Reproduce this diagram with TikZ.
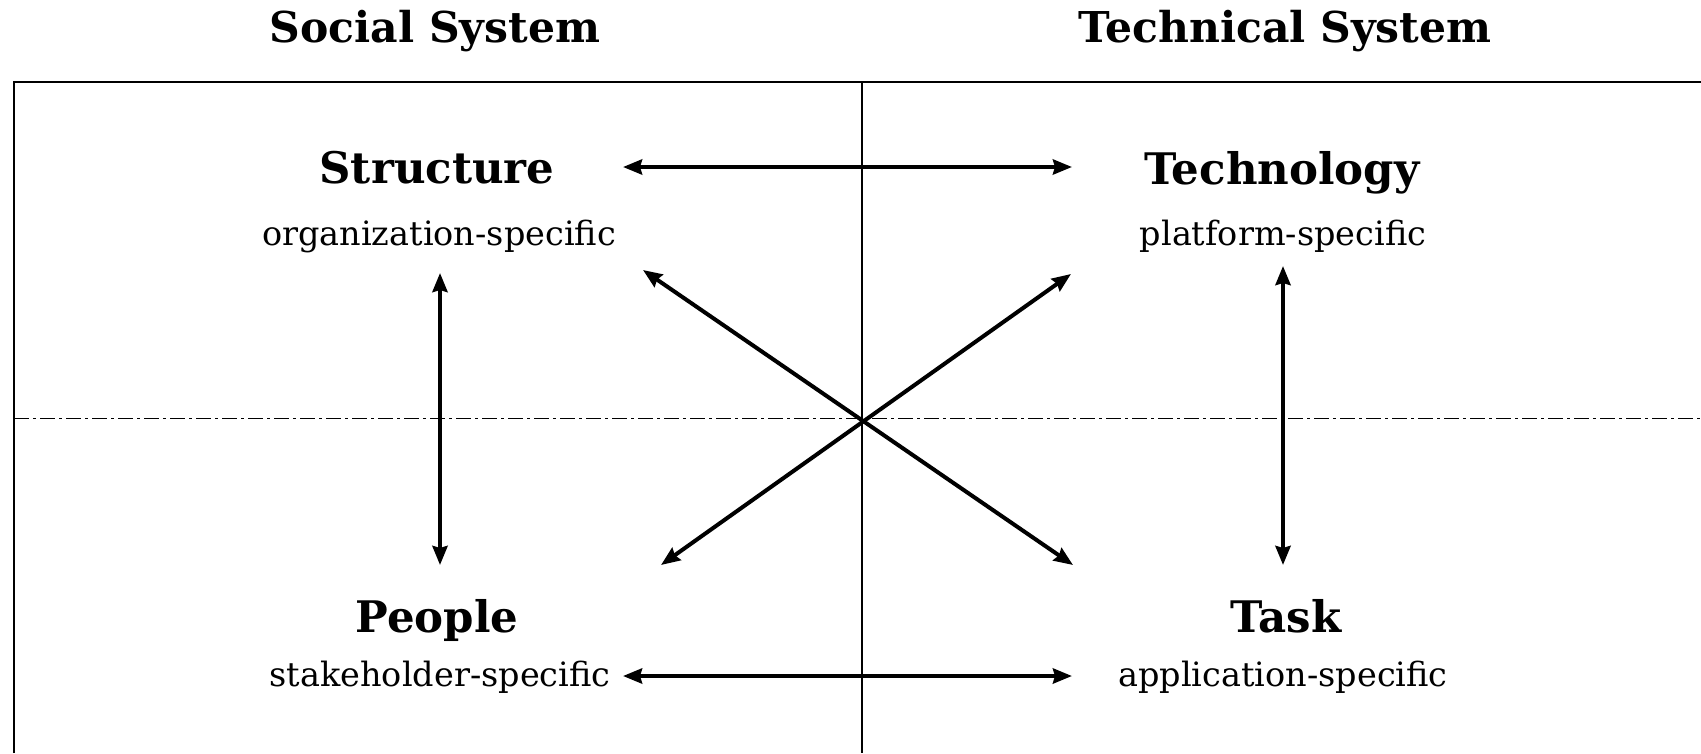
\documentclass[tikz,border=0pt]{standalone}
\usepackage{fontspec}
\setmainfont{DejaVu Serif}
\usetikzlibrary{arrows.meta}
\tikzset{
  title/.style={font=\fontsize{42.5}{48}\selectfont\bfseries, anchor=base, inner sep=0pt},
  head/.style={font=\fontsize{43.5}{48}\selectfont\bfseries, anchor=base, inner sep=0pt},
  sub/.style={font=\fontsize{33.5}{38}\selectfont, anchor=base, inner sep=0pt},
  frameline/.style={line width=2pt},
  midline/.style={line width=1.3pt},
  dashdot/.style={line width=1pt, dash pattern=on 15pt off 4pt on 3pt off 4pt},
  link/.style={line width=4pt, {Stealth[length=19pt,width=15pt,inset=2pt]}-{Stealth[length=19pt,width=15pt,inset=2pt]}}
}
\begin{document}
\begin{tikzpicture}[x=1pt,y=-1pt]
\useasboundingbox (0,0) rectangle (1701,753);
% titles
\node[title] (social) at (435,42) {Social System};
\node[title] (technical) at (1285,42) {Technical System};
% frame
\coordinate (ftl) at (14,82);
\coordinate (ftr) at (1701,82);
\coordinate (fbl) at (14,753);
\coordinate (mt) at (862,82);
\coordinate (mb) at (862,753);
\coordinate (hl) at (14,418);
\coordinate (hr) at (1701,418);
\draw[frameline] (fbl) -- (ftl) -- (ftr);
\draw[midline] (mt) -- (mb);
\draw[dashdot] (hl) -- (hr);
% labels
\node[head] (structure) at (437,183) {Structure};
\node[sub] (structuresub) at (439,245) {organization-specific};
\node[head] (technology) at (1282,184) {Technology};
\node[sub] (technologysub) at (1283,245) {platform-specific};
\node[head] (people) at (437,632) {People};
\node[sub] (peoplesub) at (440,686) {stakeholder-specific};
\node[head] (task) at (1286,632) {Task};
\node[sub] (tasksub) at (1283,686) {application-specific};
% arrow ends
\coordinate (sR) at (623,167);
\coordinate (tL) at (1072,167);
\coordinate (pR) at (623,676);
\coordinate (kL) at (1072,676);
\coordinate (sD) at (440,273);
\coordinate (pU) at (440,565);
\coordinate (tD) at (1283,266);
\coordinate (kU) at (1283,565);
\coordinate (sX) at (643,270);
\coordinate (kX) at (1073,565);
\coordinate (tX) at (1071,274);
\coordinate (pX) at (661,565);
\draw[link] (sR) -- (tL);
\draw[link] (pR) -- (kL);
\draw[link] (sD) -- (pU);
\draw[link] (tD) -- (kU);
\draw[link] (sX) -- (kX);
\draw[link] (tX) -- (pX);
\end{tikzpicture}
\end{document}
